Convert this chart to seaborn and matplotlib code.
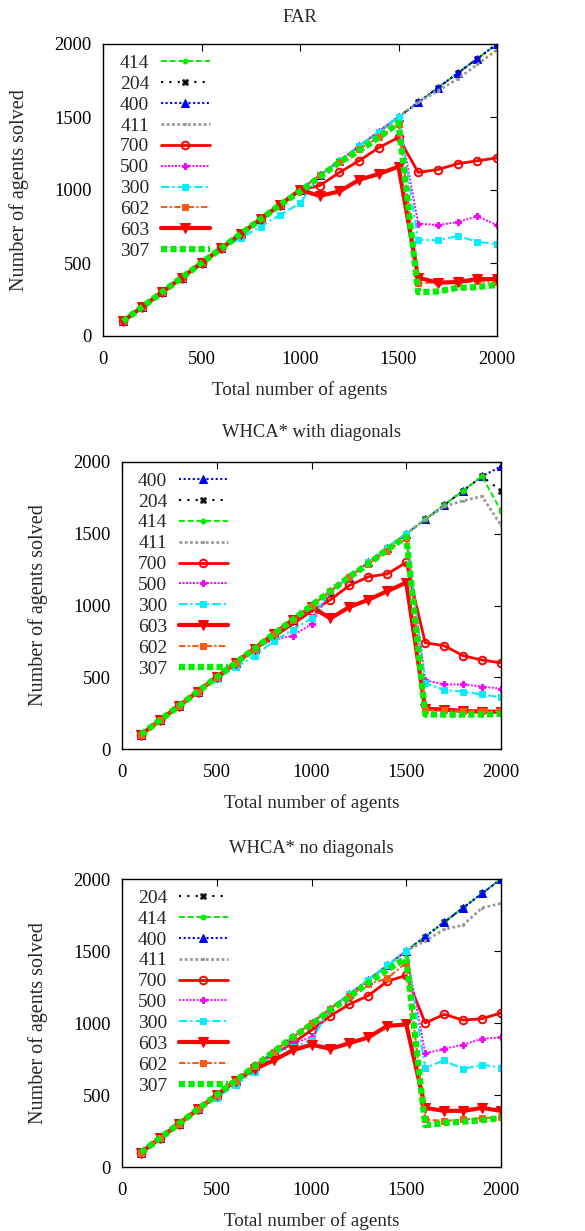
import matplotlib
matplotlib.use("Agg")
import matplotlib.pyplot as plt
import seaborn as sns
import numpy as np

sns.set_theme(style="white")
plt.rcParams['font.family'] = ['Liberation Serif', 'DejaVu Serif']
plt.rcParams['mathtext.fontset'] = 'stix'

x_agents = [100, 200, 300, 400, 500, 600, 700, 800, 900, 1000,
            1100, 1200, 1300, 1400, 1500, 1600, 1700, 1800, 1900, 2000]

# ---------------- FAR ----------------
far_414 = [100, 200, 300, 400, 500, 600, 700, 800, 900, 1000, 1100, 1200, 1300, 1400, 1500, 1600, 1700, 1800, 1900, 2000]
far_204 = [100, 200, 300, 400, 500, 600, 700, 800, 900, 1000, 1100, 1200, 1300, 1400, 1500, 1600, 1700, 1800, 1900, 2000]
far_400 = [100, 200, 300, 400, 500, 600, 700, 800, 900, 1000, 1100, 1200, 1300, 1400, 1500, 1600, 1700, 1800, 1900, 2000]
far_411 = [100, 200, 300, 400, 500, 600, 700, 800, 900, 1000, 1100, 1200, 1300, 1400, 1500, 1600, 1680, 1760, 1860, 1960]
far_700 = [100, 200, 300, 400, 500, 600, 700, 800, 900, 1000, 1030, 1120, 1200, 1290, 1360, 1120, 1140, 1180, 1200, 1220]
far_500 = [100, 200, 300, 400, 500, 600, 700, 800, 900, 1000, 1100, 1200, 1300, 1400, 1500, 770, 760, 780, 820, 760]
far_300 = [100, 200, 300, 400, 500, 600, 670, 750, 830, 910, 1100, 1200, 1300, 1400, 1500, 660, 655, 685, 645, 630]
far_602 = [100, 200, 300, 400, 500, 600, 700, 800, 900, 1000, 1100, 1190, 1280, 1360, 1450, 360, 370, 365, 375, 370]
far_603 = [100, 200, 300, 400, 500, 600, 700, 800, 900, 1000, 960, 990, 1070, 1110, 1160, 400, 365, 370, 390, 390]
far_307 = [100, 200, 300, 400, 500, 600, 700, 800, 900, 990, 1090, 1190, 1270, 1360, 1460, 300, 305, 330, 335, 350]
far_order = ['414', '204', '400', '411', '700', '500', '300', '602', '603', '307']

# ---------------- WHCA* with diagonals ----------------
wd_400 = [100, 200, 300, 400, 500, 600, 700, 800, 900, 1000, 1100, 1200, 1300, 1400, 1500, 1600, 1700, 1800, 1900, 1970]
wd_204 = [100, 200, 300, 400, 500, 600, 700, 800, 900, 1000, 1100, 1200, 1300, 1400, 1500, 1600, 1700, 1800, 1900, 1800]
wd_414 = [100, 200, 300, 400, 500, 600, 700, 800, 900, 1000, 1100, 1200, 1300, 1400, 1500, 1600, 1700, 1800, 1900, 1660]
wd_411 = [100, 200, 300, 400, 500, 600, 700, 800, 900, 1000, 1100, 1200, 1300, 1400, 1500, 1600, 1690, 1730, 1760, 1560]
wd_700 = [100, 200, 300, 400, 500, 600, 700, 780, 870, 960, 1040, 1140, 1200, 1220, 1300, 740, 720, 650, 620, 600]
wd_500 = [100, 200, 300, 400, 500, 600, 700, 760, 790, 870, 1100, 1200, 1300, 1400, 1500, 480, 450, 450, 435, 420]
wd_300 = [100, 200, 300, 400, 490, 570, 650, 750, 830, 910, 1100, 1200, 1300, 1400, 1500, 460, 410, 400, 380, 360]
wd_603 = [100, 200, 300, 400, 500, 600, 700, 800, 900, 990, 910, 990, 1040, 1100, 1160, 280, 275, 265, 260, 260]
wd_602 = [100, 200, 300, 400, 500, 600, 700, 800, 900, 1000, 1100, 1200, 1290, 1380, 1470, 270, 270, 265, 265, 265]
wd_307 = [100, 200, 300, 400, 500, 600, 700, 800, 900, 1000, 1100, 1200, 1290, 1390, 1480, 240, 240, 240, 240, 245]
wd_order = ['400', '204', '414', '411', '700', '500', '300', '603', '602', '307']

# ---------------- WHCA* no diagonals ----------------
wn_204 = [100, 200, 300, 400, 500, 600, 700, 800, 900, 1000, 1100, 1200, 1300, 1400, 1500, 1600, 1700, 1800, 1900, 2000]
wn_414 = [100, 200, 300, 400, 500, 600, 700, 800, 900, 1000, 1100, 1200, 1300, 1400, 1500, 1600, 1700, 1800, 1900, 2000]
wn_400 = [100, 200, 300, 400, 500, 600, 700, 800, 900, 1000, 1100, 1200, 1300, 1400, 1500, 1600, 1700, 1800, 1900, 2000]
wn_411 = [100, 200, 300, 400, 500, 600, 700, 800, 900, 1000, 1100, 1200, 1300, 1400, 1500, 1570, 1650, 1680, 1800, 1830]
wn_700 = [100, 200, 300, 400, 500, 600, 700, 780, 860, 950, 1050, 1130, 1190, 1290, 1330, 1000, 1060, 1020, 1030, 1070]
wn_500 = [100, 200, 300, 400, 500, 600, 700, 780, 860, 900, 1100, 1200, 1300, 1400, 1500, 790, 820, 850, 890, 900]
wn_300 = [100, 200, 300, 400, 480, 570, 660, 790, 830, 880, 1100, 1200, 1300, 1400, 1500, 690, 740, 680, 710, 690]
wn_603 = [100, 200, 300, 400, 500, 600, 680, 740, 810, 850, 820, 860, 900, 980, 990, 410, 390, 390, 410, 390]
wn_602 = [100, 200, 300, 400, 500, 600, 700, 800, 900, 1000, 1100, 1190, 1270, 1310, 1420, 330, 320, 330, 340, 345]
wn_307 = [100, 200, 300, 400, 500, 600, 700, 800, 900, 990, 1090, 1180, 1280, 1370, 1450, 290, 305, 315, 325, 340]
wn_order = ['204', '414', '400', '411', '700', '500', '300', '603', '602', '307']

panels = [
    ("FAR", far_order, {'414': far_414, '204': far_204, '400': far_400, '411': far_411, '700': far_700,
                        '500': far_500, '300': far_300, '602': far_602, '603': far_603, '307': far_307}),
    ("WHCA* with diagonals", wd_order, {'400': wd_400, '204': wd_204, '414': wd_414, '411': wd_411, '700': wd_700,
                                        '500': wd_500, '300': wd_300, '603': wd_603, '602': wd_602, '307': wd_307}),
    ("WHCA* no diagonals", wn_order, {'204': wn_204, '414': wn_414, '400': wn_400, '411': wn_411, '700': wn_700,
                                      '500': wn_500, '300': wn_300, '603': wn_603, '602': wn_602, '307': wn_307}),
]

styles = {
    '414': dict(color='#00ee00', linestyle=(0, (3, 1.5)), lw=1.4, marker='o', ms=3.5, mfc='#00ee00', mec='#00ee00'),
    '204': dict(color='black', linestyle=(0, (1, 3)), lw=1.5, marker='X', ms=4.5, mfc='black', mec='#333333'),
    '400': dict(color='#0000ff', linestyle=(0, (1, 1.2)), lw=1.5, marker='^', ms=6, mfc='#0000ff', mec='#0000ff'),
    '411': dict(color='#999999', linestyle=(0, (1, 0.9)), lw=2.0, marker='.', ms=3, mfc='#999999', mec='#999999'),
    '700': dict(color='#ff0000', linestyle='-', lw=2.0, marker='o', ms=5.5, mfc='none', mec='#ff0000', mew=1.4),
    '500': dict(color='#ff00ff', linestyle=(0, (1, 0.8)), lw=1.4, marker='P', ms=4, mfc='#ff00ff', mec='#ff00ff'),
    '300': dict(color='#00eeff', linestyle=(0, (4, 1.5, 1, 1.5)), lw=1.5, marker='s', ms=5, mfc='#00eeff', mec='#00eeff'),
    '602': dict(color='#ff5a14', linestyle=(0, (3, 1.2, 1, 1.2)), lw=1.5, marker='s', ms=4, mfc='#ff5a14', mec='#ff5a14'),
    '603': dict(color='#ff0000', linestyle='-', lw=3.0, marker='v', ms=6.5, mfc='#ff0000', mec='#ff0000'),
    '307': dict(color='#00ee00', linestyle=(0, (1, 0.5)), lw=4.5, marker=None),
}

fig = plt.figure(figsize=(5.85, 12.31), dpi=100)
axes_pos = [
    [103 / 585, 1 - 336 / 1231, 394 / 585, 292 / 1231],
    [122 / 585, 1 - 749 / 1231, 379 / 585, 287 / 1231],
    [122 / 585, 1 - 1167 / 1231, 379 / 585, 288 / 1231],
]
title_pads = [16, 18, 19]
leg_anchor = [(0.043, 0.965), (0.042, 0.965), (0.042, 0.965)]
FS = 13.3

for (title, order, data), pos, tp, la in zip(panels, axes_pos, title_pads, leg_anchor):
    ax = fig.add_axes(pos)
    for name in order:
        st = dict(styles[name])
        sns.lineplot(x=x_agents, y=data[name], ax=ax, label=name, **st)
    ax.set_xlim(0, 2000)
    ax.set_ylim(0, 2000)
    ax.set_xticks([0, 500, 1000, 1500, 2000])
    ax.set_yticks([0, 500, 1000, 1500, 2000])
    ax.tick_params(direction='in', top=True, right=True, length=5, width=0.8,
                   labelsize=FS, colors='black')
    ax.tick_params(axis='x', pad=11)
    ax.tick_params(axis='y', pad=8)
    for s in ax.spines.values():
        s.set_color('black')
        s.set_linewidth(1.0)
    ax.set_xlabel("Total number of agents", fontsize=13.7, labelpad=9)
    ax.set_ylabel("Number of agents solved", fontsize=14.5, labelpad=18)
    ax.set_title(title, fontsize=FS, pad=tp)
    ax.grid(False)
    ax.legend(loc='upper left', bbox_to_anchor=la, markerfirst=False,
              frameon=False, fontsize=14, handlelength=2.5, handletextpad=0.6,
              labelspacing=0.17, borderaxespad=0, borderpad=0)

fig.savefig("out.png", dpi=100)
